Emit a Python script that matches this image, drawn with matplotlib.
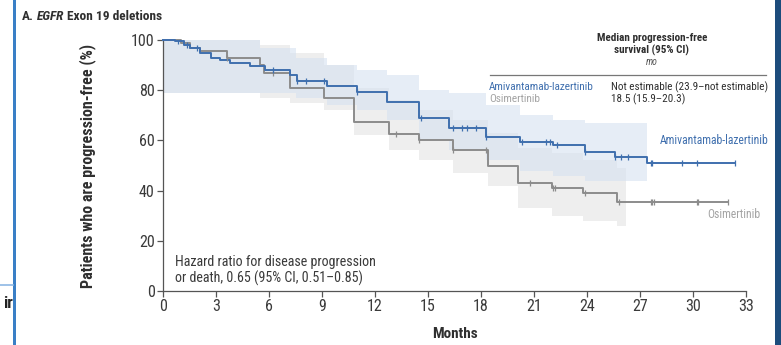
import numpy as np
import matplotlib
matplotlib.use("Agg")
import matplotlib.pyplot as plt
from matplotlib import font_manager
from matplotlib.lines import Line2D
from matplotlib.patches import Rectangle


def pick_family(candidates):
    for name in candidates:
        try:
            font_manager.findfont(font_manager.FontProperties(family=name),
                                  fallback_to_default=False)
            return name
        except Exception:
            continue
    return "DejaVu Sans"


NARROW = pick_family(["Liberation Sans Narrow", "DejaVu Sans Condensed", "Roboto Condensed",
                      "Liberation Sans"])
plt.rcParams["font.family"] = [NARROW, "DejaVu Sans"]

# Kaplan-Meier step data (months, % progression-free)
ami_times = [0, 0.7, 1.2, 1.5, 2.1, 2.7, 3.2, 3.8, 4.9, 5.8, 7.2, 7.6, 9.3, 11.0, 12.7, 14.5, 16.2, 18.3, 20.2, 22.1, 23.9, 25.6, 27.4]
ami_surv = [100, 99.5, 98, 96.8, 95, 93, 92, 90.8, 89.6, 88, 86, 83.5, 81.5, 79.2, 75.3, 68.8, 64.8, 61.5, 59.5, 58.2, 55.5, 53.5, 50.9]
ami_end = 32.4
ami_censor = [0.85, 1.35, 1.9, 6.2, 7.6, 8.1, 9.1, 11.0, 14.6, 16.4, 16.9, 17.2, 17.7, 18.3, 20.3,
              21.7, 21.9, 22.3, 23.9, 25.6, 25.9, 26.3, 27.6, 27.7, 29.4, 30.2]

osi_times = [0, 1.0, 1.5, 2.1, 3.6, 5.5, 5.7, 7.2, 9.1, 10.8, 12.8, 14.5, 16.4, 18.4, 20.1, 22.0, 23.8, 25.7]
osi_surv = [100, 99, 97, 95.5, 93, 90, 87, 81, 77, 67.5, 62.5, 60, 56.2, 50, 43, 41, 39, 35.5]
osi_end = 32.0
osi_censor = [3.6, 6.2, 13.2, 14.5, 16.4, 18.3, 20.8, 22.1, 22.2, 23.9, 25.8, 27.6, 27.7, 27.8, 30.2, 30.3]

# 95% confidence bands (step times, lower, upper)
ami_band_t = [0, 5.5, 7.5, 9.3, 11.0, 12.7, 14.5, 16.2, 18.3, 20.2, 22.1, 23.9, 25.6, 27.4]
ami_band_lo = [79, 79, 77, 74, 72, 68, 60, 56, 52, 48, 46, 44, 44, 44]
ami_band_hi = [100, 97, 93, 90, 88, 86, 80, 79, 74, 70, 68, 67, 67, 67]

osi_band_t = [0, 5.5, 7.2, 9.1, 10.8, 12.8, 14.5, 16.4, 18.4, 20.1, 22.0, 23.8, 25.7, 26.2]
osi_band_lo = [79, 77, 75, 72, 62, 56, 52, 47, 42, 33, 30, 28, 26, 26]
osi_band_hi = [100, 98, 95, 90, 81, 76, 72, 68, 63, 57, 55, 52, 49, 49]

x_ticks = [0, 3, 6, 9, 12, 15, 18, 21, 24, 27, 30, 33]
y_ticks = [0, 20, 40, 60, 80, 100]

BLUE = "#3f6fae"
GRAY = "#8c8c8c"
LABEL_GRAY = "#a3a3a3"
TXT = "#2f2f2f"

fig = plt.figure(figsize=(7.81, 3.45), dpi=100)
W, H = 781, 345


def fx(px):
    return px / W


def fy(py):
    return 1 - py / H


ax = fig.add_axes([fx(163), fy(291), fx(746) - fx(163), fy(40) - fy(291)])
ax.set_xlim(0, 33)
ax.set_ylim(0, 100)

# confidence bands
ax.fill_between(osi_band_t, osi_band_lo, osi_band_hi, step="post",
                color="#ececec", alpha=0.85, lw=0, zorder=1)
ax.fill_between(ami_band_t, ami_band_lo, ami_band_hi, step="post",
                color="#d6e2f1", alpha=0.6, lw=0, zorder=1.2)


def km(times, surv, end):
    return list(times) + [end], list(surv) + [surv[-1]]


def surv_at(times, surv, t):
    i = np.searchsorted(times, t, side="right") - 1
    return surv[i]


for times, surv, end, cens, col in [
    (osi_times, osi_surv, osi_end, osi_censor, GRAY),
    (ami_times, ami_surv, ami_end, ami_censor, BLUE),
]:
    t, s = km(times, surv, end)
    ax.step(t, s, where="post", color=col, lw=1.4, zorder=3, clip_on=False)
    cy = [surv_at(times, surv, c) for c in cens]
    ax.plot(cens, cy, ls="none", marker="|", ms=5, mew=0.9, color=col, zorder=4)
    ax.plot([end], [surv[-1]], ls="none", marker="|", ms=5, mew=0.9, color=col, zorder=4)

for sp in ["top", "right"]:
    ax.spines[sp].set_visible(False)
for sp in ["left", "bottom"]:
    ax.spines[sp].set_color("#555555")
    ax.spines[sp].set_linewidth(0.9)

ax.set_xticks(x_ticks)
ax.set_yticks(y_ticks)
ax.tick_params(axis="both", direction="out", length=4, width=0.9, color="#555555",
               labelsize=11.5, labelcolor="#3a3a3a", pad=2)

ax.set_xlabel("Months", fontsize=11, fontweight="bold", color=TXT)
ax.xaxis.set_label_coords((455 - 163) / (746 - 163), -0.145)
ax.set_ylabel("Patients who are progression-free (%)", fontsize=11.5, fontweight="bold",
              color=TXT)
ax.yaxis.set_label_coords((96 - 163) / (746 - 163), 0.5)

# hazard ratio
ax.text(0.7, 8.2, "Hazard ratio for disease progression\nor death, 0.65 (95% CI, 0.51\u20130.85)",
        fontsize=10.1, color="#3a3a3a", va="center", ha="left", linespacing=1.2)

# curve labels
ax.text(34.3, 60.0, "Amivantamab-lazertinib", color=BLUE, fontsize=8.4, ha="right",
        va="center", clip_on=False)
ax.text(33.8, 30.5, "Osimertinib", color=LABEL_GRAY, fontsize=8.4, ha="right",
        va="center", clip_on=False)

# median PFS table
fig.text(fx(652), fy(38), "Median progression-free", ha="center", va="center",
         fontsize=8.0, fontweight="bold", color=TXT)
fig.text(fx(652), fy(50), "survival (95% CI)", ha="center", va="center",
         fontsize=8.0, fontweight="bold", color=TXT)
fig.text(fx(652), fy(62), "mo", ha="center", va="center", fontsize=7,
         style="italic", color="#555555")
fig.add_artist(Line2D([fx(490), fx(766)], [fy(75), fy(75)], color="#777777", lw=0.9))
fig.text(fx(489), fy(87.5), "Amivantamab-lazertinib", ha="left", va="center",
         fontsize=8.1, color=BLUE)
fig.text(fx(489), fy(99.5), "Osimertinib", ha="left", va="center", fontsize=8.1,
         color=LABEL_GRAY)
fig.text(fx(611), fy(87.5), "Not estimable (23.9\u2013not estimable)", ha="left", va="center",
         fontsize=8.0, color=TXT)
fig.text(fx(611), fy(99.5), "18.5 (15.9\u201320.3)", ha="left", va="center", fontsize=8.0,
         color=TXT)

# panel title, pieces laid out one after another
renderer = fig.canvas.get_renderer()
x_px = 22
for piece, style in [("A.", "normal"), ("EGFR", "italic"), ("Exon 19 deletions", "normal")]:
    t = fig.text(fx(x_px), fy(16), piece, ha="left", va="center", fontsize=9.6,
                 fontweight="bold", style=style, color=TXT)
    x_px += t.get_window_extent(renderer).width + 3

# page frame elements
fig.add_artist(Rectangle((fx(13), 0), fx(3), 1, color="#3a7fc6", lw=0))
fig.add_artist(Line2D([0, fx(13)], [fy(285), fy(285)], color="#8db8e4", lw=1.2))
fig.add_artist(Rectangle((fx(775), 0), fx(6), 1, color="#1d4c7c", lw=0))
fig.text(fx(13), fy(303), "ir", ha="right", va="center", fontsize=12, fontweight="bold",
         color="#222222")

fig.savefig("out.png", dpi=100)
